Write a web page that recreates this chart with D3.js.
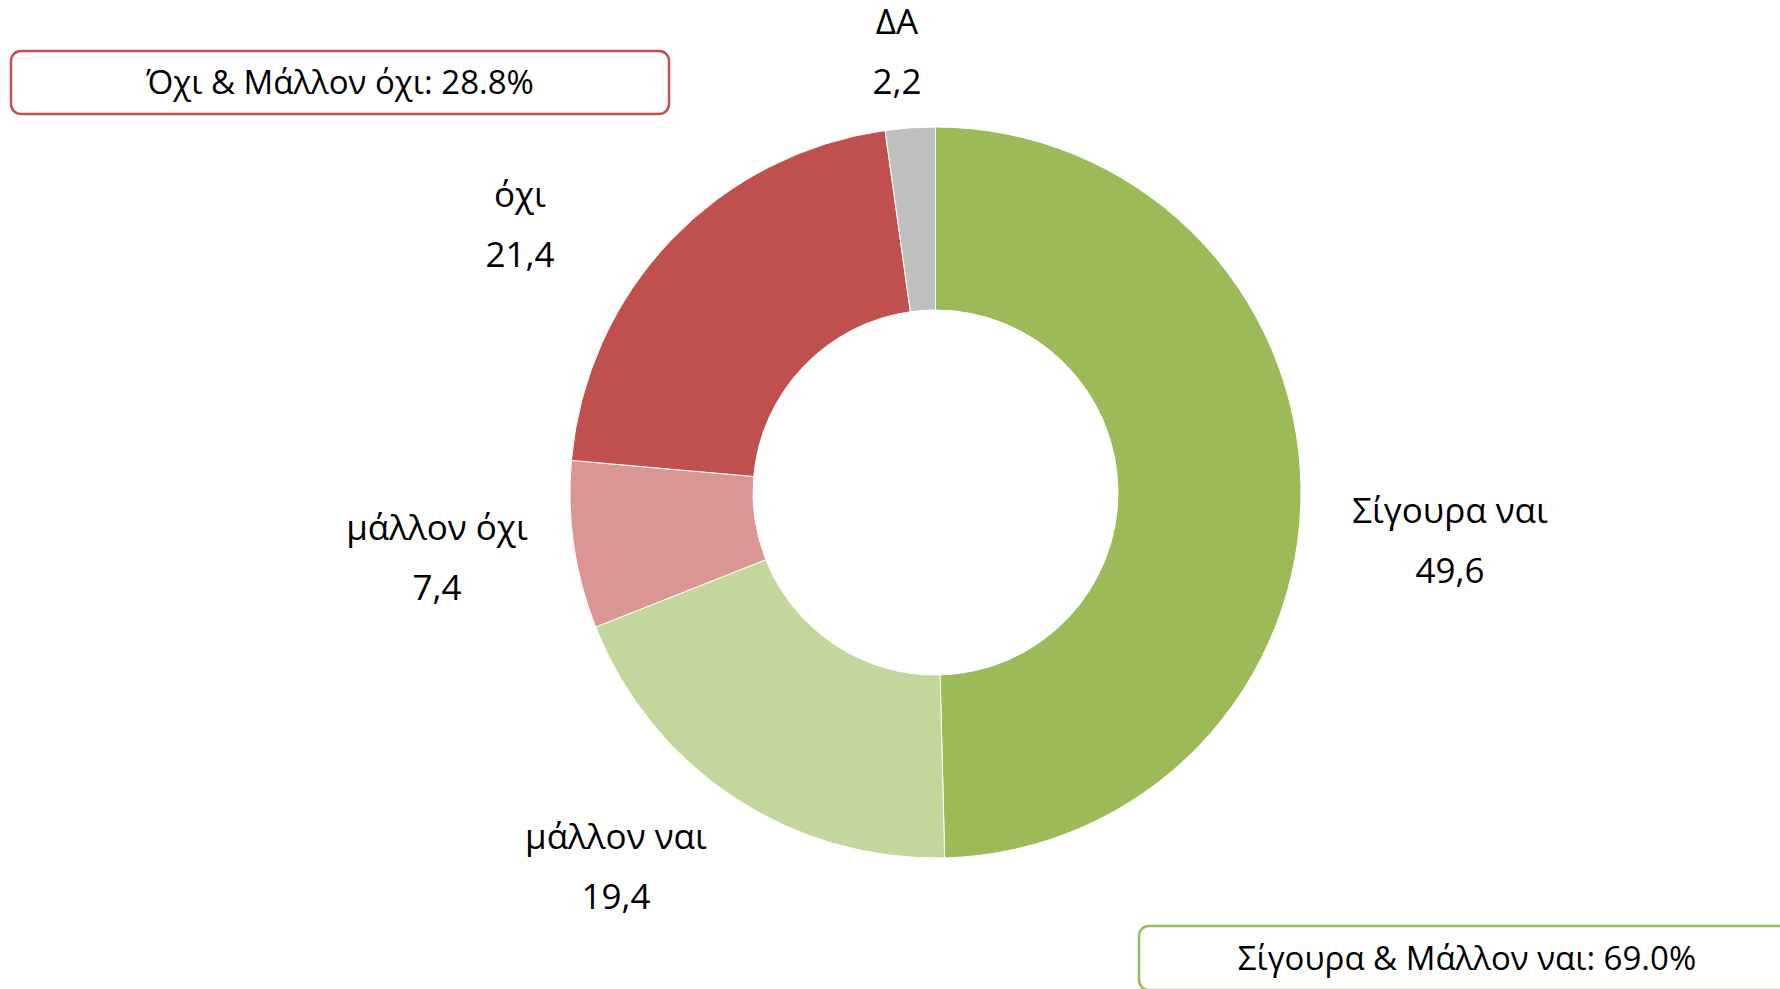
<!DOCTYPE html>
<html>
<head>
<meta charset="utf-8">
<script src="https://cdn.jsdelivr.net/npm/d3@7"></script>
<style>
  html, body { margin: 0; padding: 0; background: #fff; }
  svg { display: block; }
  text { font-family: "Open Sans", "Noto Sans", sans-serif; fill: #000; }
</style>
</head>
<body>
<svg id="chart" width="1780" height="989"></svg>
<script>
// ---- data ----
const categories = ["Σίγουρα ναι", "μάλλον ναι", "μάλλον όχι", "όχι", "ΔΑ"];
const values = [49.6, 19.4, 7.4, 21.4, 2.2];
const valueLabels = ["49,6", "19,4", "7,4", "21,4", "2,2"];
const colors = ["#9BBB59", "#C3D69B", "#D99694", "#C0504D", "#BFBFBF"];
const summaryTexts = ["Όχι & Μάλλον όχι: 28.8%", "Σίγουρα & Μάλλον ναι: 69.0%"];
const summaryColors = ["#C0504D", "#9BBB59"];

// ---- layout (positions, not data) ----
const cx = 935.5, cy = 492.5, outerR = 365.5, innerR = 182.5;
// label anchor positions: [centerX, baselineY of first line]
const labelPos = [[1450, 523], [616, 849], [437, 540], [520, 207], [897, 34]];
const lineGap = 60;
const labelFontSize = 35;
const boxFontSize = 33;
const boxes = [
  {x: 11, y: 51, w: 658, h: 63},
  {x: 1139, y: 926, w: 656, h: 64}
];

const svg = d3.select("#chart");

const pie = d3.pie().sort(null).value(d => d).startAngle(0).endAngle(2 * Math.PI);
const arc = d3.arc().innerRadius(innerR).outerRadius(outerR);

const g = svg.append("g").attr("transform", `translate(${cx},${cy})`);
g.selectAll("path")
  .data(pie(values))
  .join("path")
  .attr("d", arc)
  .attr("fill", (d, i) => colors[i])
  .attr("stroke", "#fff")
  .attr("stroke-width", 1);

// slice labels
const lbl = svg.append("g");
categories.forEach((c, i) => {
  const t = lbl.append("text")
    .attr("text-anchor", "middle")
    .attr("font-size", labelFontSize);
  t.append("tspan").attr("x", labelPos[i][0]).attr("y", labelPos[i][1]).text(c);
  t.append("tspan").attr("x", labelPos[i][0]).attr("y", labelPos[i][1] + lineGap).text(valueLabels[i]);
});

// summary boxes
boxes.forEach((b, i) => {
  svg.append("rect")
    .attr("x", b.x).attr("y", b.y).attr("width", b.w).attr("height", b.h)
    .attr("rx", 10).attr("ry", 10)
    .attr("fill", "none")
    .attr("stroke", summaryColors[i])
    .attr("stroke-width", 2.5);
  svg.append("text")
    .attr("x", b.x + b.w / 2)
    .attr("y", b.y + b.h / 2)
    .attr("dy", "0.35em")
    .attr("text-anchor", "middle")
    .attr("font-size", boxFontSize)
    .text(summaryTexts[i]);
});
</script>
</body>
</html>
